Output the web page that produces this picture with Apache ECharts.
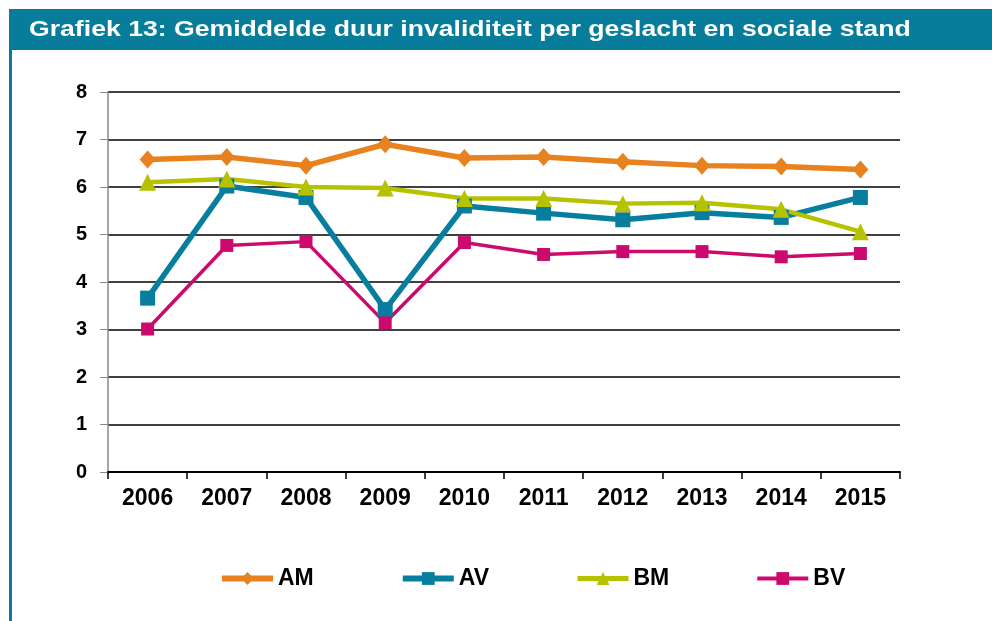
<!DOCTYPE html>
<html>
<head>
<meta charset="utf-8">
<script src="https://cdn.jsdelivr.net/npm/echarts@6/dist/echarts.min.js"></script>
<style>
  html, body { margin: 0; padding: 0; background: #fff; }
  #main { width: 992px; height: 621px; }
</style>
</head>
<body>
<div id="main"></div>
<script>
// data
const years = ['2006', '2007', '2008', '2009', '2010', '2011', '2012', '2013', '2014', '2015'];
const am = [6.58, 6.63, 6.45, 6.90, 6.61, 6.63, 6.53, 6.45, 6.43, 6.37];
const av = [3.66, 6.02, 5.78, 3.42, 5.60, 5.45, 5.31, 5.46, 5.36, 5.78];
const bm = [6.10, 6.17, 6.00, 5.98, 5.76, 5.76, 5.65, 5.67, 5.53, 5.06];
const bv = [3.01, 4.77, 4.85, 3.14, 4.83, 4.58, 4.64, 4.64, 4.53, 4.60];

const font = '"Liberation Sans", Arial, sans-serif';
const titleText = 'Grafiek 13: Gemiddelde duur invaliditeit per geslacht en sociale stand';

function lineSeries(name, data, color, symbol, size, width) {
  return {
    name: name,
    type: 'line',
    data: data,
    symbol: symbol,
    symbolSize: size,
    lineStyle: { color: color, width: width },
    itemStyle: { color: color },
    emphasis: { disabled: true }
  };
}

const chart = echarts.init(document.getElementById('main'));
chart.setOption({
  backgroundColor: '#fff',
  animation: false,
  graphic: [
    {
      type: 'rect',
      shape: { x: 9, y: 9, width: 983, height: 41 },
      style: { fill: '#087c9b' }
    },
    {
      type: 'rect',
      shape: { x: 9, y: 50, width: 3, height: 571 },
      style: { fill: '#087c9b' }
    },
    {
      // title is a little wider than plain Arial in the source
      type: 'text',
      x: 29,
      y: 30,
      scaleX: 1.21,
      style: {
        text: titleText,
        fill: '#fff',
        font: 'bold 22px ' + font,
        verticalAlign: 'middle'
      }
    }
  ],
  legend: {
    top: 562,
    left: 214,
    itemWidth: 51,
    itemHeight: 16,
    itemGap: 86,
    textStyle: { color: '#000', fontFamily: font, fontWeight: 'bold', fontSize: 23 },
    data: [
      { name: 'AM', lineStyle: { width: 6 } },
      { name: 'AV', lineStyle: { width: 6 } },
      { name: 'BM', lineStyle: { width: 5 } },
      { name: 'BV', lineStyle: { width: 4 } }
    ]
  },
  grid: { left: 108, right: 92, top: 92, bottom: 149 },
  xAxis: {
    type: 'category',
    data: years,
    boundaryGap: true,
    axisLine: { lineStyle: { color: '#000', width: 2 } },
    axisTick: { show: true, length: 7, lineStyle: { color: '#000', width: 1.5 } },
    axisLabel: { color: '#000', fontFamily: font, fontWeight: 'bold', fontSize: 23, margin: 15 },
    splitLine: { show: false }
  },
  yAxis: {
    type: 'value',
    min: 0,
    max: 8,
    interval: 1,
    axisLine: { show: true, lineStyle: { color: '#888', width: 1.5 } },
    axisTick: { show: true, length: 8, lineStyle: { color: '#888' } },
    axisLabel: { color: '#000', fontFamily: font, fontWeight: 'bold', fontSize: 20, margin: 21 },
    splitLine: { lineStyle: { color: '#000', width: 1.5 } }
  },
  series: [
    lineSeries('AM', am, '#e8821f', 'diamond', [16, 18], 5.5),
    lineSeries('AV', av, '#077e9e', 'rect', 15, 5.5),
    lineSeries('BM', bm, '#b6c200', 'triangle', 17, 4.5),
    lineSeries('BV', bv, '#cc0a6e', 'rect', 13, 3.5)
  ]
});
</script>
</body>
</html>
